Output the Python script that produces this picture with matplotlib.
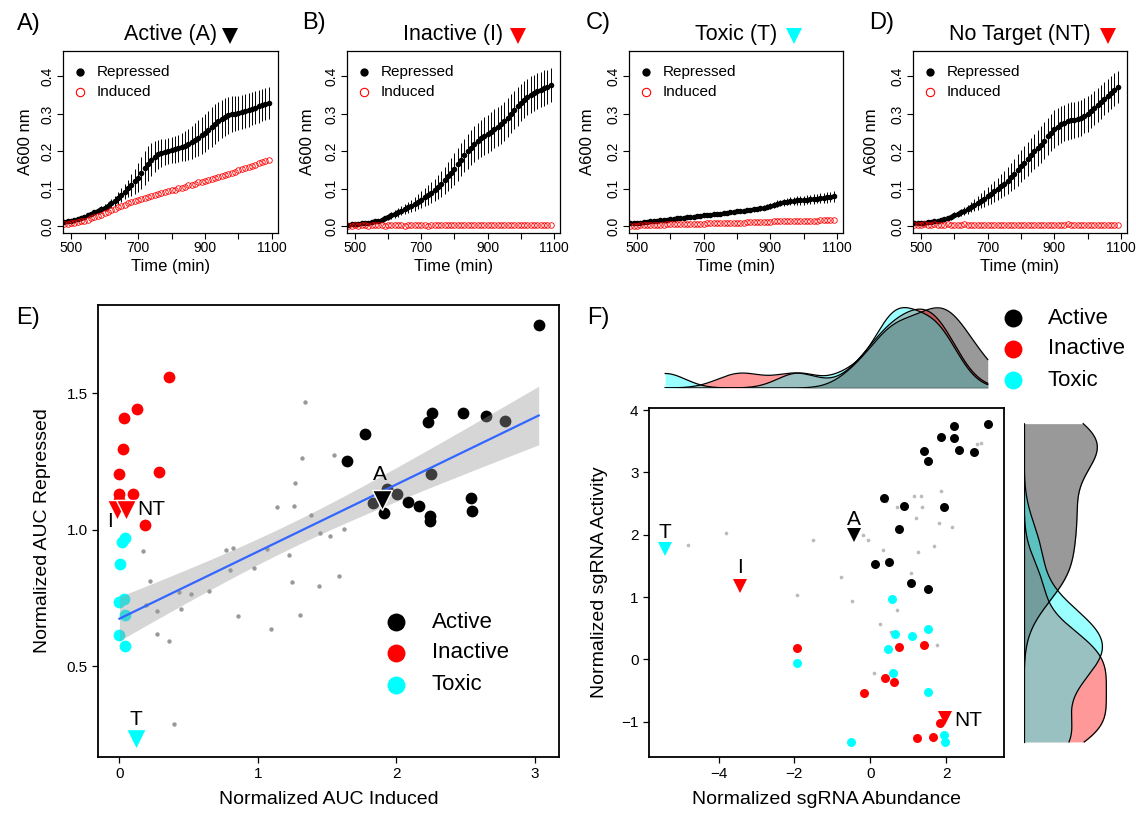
import numpy as np
import matplotlib
matplotlib.use("Agg")
import matplotlib.pyplot as plt

plt.rcParams['font.family'] = ['Liberation Sans', 'DejaVu Sans']

# ---- growth curves (A-D), time in min, A600 ----
time = np.arange(480, 1100, 10)

A_rep = [0.012,0.013,0.015,0.017,0.020,0.023,0.026,0.029,0.033,0.037,
         0.041,0.045,0.050,0.055,0.061,0.068,0.075,0.083,0.092,0.101,
         0.110,0.120,0.130,0.142,0.155,0.167,0.178,0.186,0.192,0.196,
         0.199,0.202,0.204,0.206,0.208,0.211,0.215,0.219,0.224,0.230,
         0.236,0.243,0.250,0.257,0.265,0.273,0.280,0.286,0.292,0.296,
         0.299,0.301,0.303,0.305,0.308,0.311,0.314,0.317,0.320,0.323,
         0.326,0.329]
A_err = [0.002,0.002,0.003,0.003,0.004,0.004,0.005,0.005,0.006,0.007,
         0.008,0.009,0.010,0.011,0.013,0.014,0.016,0.018,0.020,0.022,
         0.030,0.034,0.038,0.042,0.045,0.046,0.045,0.042,0.039,0.037,
         0.035,0.035,0.035,0.036,0.037,0.038,0.040,0.042,0.044,0.046,
         0.048,0.050,0.051,0.052,0.053,0.053,0.052,0.051,0.050,0.049,
         0.048,0.047,0.046,0.046,0.045,0.045,0.044,0.044,0.043,0.043,
         0.042,0.042]
A_ind = [0.006,0.007,0.008,0.009,0.011,0.013,0.015,0.018,0.021,0.024,
         0.027,0.031,0.035,0.039,0.043,0.047,0.051,0.055,0.058,0.061,
         0.064,0.067,0.070,0.073,0.076,0.078,0.081,0.083,0.086,0.088,
         0.091,0.093,0.096,0.098,0.101,0.103,0.106,0.109,0.111,0.114,
         0.117,0.119,0.122,0.124,0.127,0.130,0.132,0.135,0.137,0.140,
         0.143,0.146,0.149,0.152,0.155,0.158,0.161,0.164,0.168,0.171,
         0.174,0.178]

B_rep = [0.004,0.005,0.006,0.007,0.008,0.009,0.010,0.011,0.013,0.015,
         0.018,0.021,0.025,0.029,0.033,0.037,0.042,0.046,0.051,0.055,
         0.060,0.065,0.071,0.077,0.083,0.090,0.097,0.105,0.113,0.123,
         0.133,0.143,0.153,0.165,0.178,0.189,0.200,0.210,0.220,0.228,
         0.235,0.241,0.247,0.253,0.260,0.266,0.272,0.281,0.290,0.300,
         0.310,0.320,0.330,0.338,0.345,0.351,0.356,0.361,0.365,0.369,
         0.372,0.377]
B_err = [0.002,0.002,0.002,0.002,0.003,0.003,0.003,0.004,0.004,0.005,
         0.006,0.007,0.008,0.009,0.010,0.011,0.012,0.013,0.015,0.016,
         0.018,0.020,0.022,0.024,0.026,0.028,0.030,0.032,0.034,0.036,
         0.038,0.040,0.042,0.043,0.044,0.045,0.046,0.047,0.048,0.049,
         0.050,0.050,0.051,0.051,0.052,0.052,0.052,0.052,0.052,0.052,
         0.051,0.051,0.050,0.050,0.049,0.049,0.048,0.048,0.047,0.047,
         0.046,0.046]
B_ind = [0.002,0.002,0.003,0.002,0.003,0.003,0.002,0.003,0.003,0.003,
         0.003,0.002,0.003,0.003,0.003,0.003,0.003,0.002,0.003,0.003,
         0.003,0.003,0.003,0.003,0.002,0.003,0.003,0.003,0.003,0.003,
         0.003,0.003,0.003,0.003,0.003,0.003,0.003,0.003,0.003,0.003,
         0.003,0.003,0.003,0.003,0.003,0.004,0.003,0.003,0.003,0.004,
         0.003,0.003,0.004,0.003,0.004,0.004,0.004,0.003,0.004,0.004,
         0.004,0.004]

C_rep = [0.008,0.009,0.010,0.010,0.011,0.012,0.013,0.014,0.015,0.016,
         0.017,0.018,0.019,0.020,0.021,0.022,0.023,0.024,0.025,0.026,
         0.027,0.028,0.029,0.030,0.031,0.032,0.033,0.034,0.035,0.036,
         0.037,0.038,0.040,0.041,0.042,0.043,0.044,0.045,0.046,0.048,
         0.050,0.052,0.055,0.058,0.060,0.062,0.064,0.066,0.067,0.068,
         0.069,0.070,0.070,0.071,0.072,0.073,0.074,0.075,0.076,0.077,
         0.078,0.080]
C_err = [0.001,0.001,0.001,0.001,0.001,0.002,0.002,0.002,0.002,0.002,
         0.002,0.002,0.002,0.003,0.003,0.003,0.003,0.003,0.003,0.003,
         0.003,0.003,0.004,0.004,0.004,0.004,0.004,0.004,0.004,0.005,
         0.005,0.005,0.005,0.005,0.005,0.005,0.006,0.006,0.006,0.006,
         0.007,0.007,0.008,0.008,0.009,0.009,0.010,0.010,0.011,0.011,
         0.011,0.012,0.012,0.012,0.012,0.013,0.013,0.013,0.013,0.014,
         0.014,0.014]
C_ind = [0.002,0.002,0.002,0.003,0.003,0.003,0.003,0.004,0.004,0.004,
         0.004,0.005,0.005,0.005,0.005,0.006,0.006,0.006,0.006,0.007,
         0.007,0.007,0.007,0.008,0.008,0.008,0.008,0.009,0.009,0.009,
         0.009,0.010,0.010,0.010,0.010,0.011,0.011,0.011,0.011,0.012,
         0.012,0.012,0.012,0.013,0.013,0.013,0.013,0.014,0.014,0.014,
         0.014,0.014,0.015,0.015,0.015,0.015,0.015,0.016,0.016,0.016,
         0.016,0.016]

D_rep = [0.008,0.008,0.009,0.010,0.011,0.012,0.014,0.015,0.017,0.019,
         0.022,0.025,0.029,0.033,0.037,0.041,0.046,0.051,0.056,0.062,
         0.068,0.074,0.080,0.086,0.093,0.100,0.107,0.114,0.122,0.131,
         0.140,0.150,0.160,0.170,0.180,0.190,0.200,0.209,0.218,0.229,
         0.240,0.250,0.260,0.266,0.272,0.276,0.280,0.283,0.285,0.287,
         0.290,0.295,0.300,0.308,0.316,0.324,0.332,0.340,0.348,0.357,
         0.365,0.372]
D_err = [0.002,0.002,0.002,0.002,0.003,0.003,0.003,0.004,0.004,0.005,
         0.006,0.007,0.008,0.009,0.010,0.011,0.012,0.014,0.016,0.018,
         0.020,0.022,0.024,0.026,0.028,0.030,0.032,0.034,0.036,0.038,
         0.040,0.042,0.043,0.044,0.045,0.046,0.047,0.048,0.049,0.050,
         0.050,0.050,0.050,0.050,0.050,0.049,0.049,0.049,0.048,0.048,
         0.048,0.047,0.047,0.046,0.046,0.045,0.045,0.044,0.044,0.043,
         0.043,0.042]
D_ind = [0.004,0.004,0.004,0.005,0.004,0.004,0.005,0.004,0.004,0.004,
         0.005,0.004,0.004,0.004,0.004,0.005,0.004,0.004,0.004,0.004,
         0.004,0.004,0.004,0.004,0.004,0.004,0.004,0.004,0.004,0.004,
         0.004,0.004,0.004,0.004,0.004,0.004,0.004,0.004,0.004,0.004,
         0.004,0.004,0.004,0.004,0.004,0.004,0.005,0.004,0.004,0.004,
         0.004,0.004,0.004,0.004,0.004,0.004,0.004,0.004,0.004,0.004,
         0.004,0.004]

curve_titles = ["Active (A)", "Inactive (I)", "Toxic (T)", "No Target (NT)"]
curve_letters = ["A)", "B)", "C)", "D)"]
curve_marks = ["black", "red", "cyan", "red"]

# ---- panel E: normalized AUC ----
E_act_x = [3.029,2.259,2.233,2.479,2.647,2.783,1.776,1.645,2.251,1.936,2.006,1.833,1.911,2.084,2.164,2.246,2.246,2.543,2.546]
E_act_y = [1.750,1.429,1.393,1.429,1.417,1.399,1.350,1.251,1.205,1.149,1.132,1.098,1.063,1.101,1.088,1.051,1.033,1.116,1.067]
E_inact_x = [0.356,0.127,0.034,0.028,0.000,0.287,0.000,0.096,0.186,0.000]
E_inact_y = [1.561,1.441,1.409,1.295,1.204,1.213,1.132,1.132,1.018,1.110]
E_tox_x = [0.039,0.021,0.003,0.000,0.034,0.039,0.000,0.039]
E_tox_y = [0.970,0.957,0.876,0.735,0.748,0.687,0.616,0.576]
E_oth_x = [1.343,1.322,1.552,1.270,1.136,1.260,1.387,1.446,1.521,1.624,0.168,0.767,0.818,1.064,1.226,0.800,0.973,
           0.219,0.431,0.514,0.648,0.194,0.274,0.444,1.250,1.441,1.583,0.855,1.304,1.095,0.271,0.361,0.395]
E_oth_y = [1.467,1.262,1.272,1.171,1.084,1.088,1.055,0.990,0.978,1.002,0.921,0.927,0.932,0.928,0.906,0.854,0.861,
           0.813,0.773,0.763,0.776,0.724,0.702,0.709,0.807,0.794,0.832,0.683,0.687,0.638,0.618,0.591,0.287]
E_tri_lab = ["A", "I", "NT", "T"]
E_tri_x = [1.898, -0.018, 0.044, 0.121]
E_tri_y = [1.110, 1.073, 1.073, 0.235]
E_lab_x = [1.885, -0.065, 0.232, 0.116]
E_lab_y = [1.201, 1.030, 1.076, 0.305]

# ---- panel F: sgRNA abundance vs activity ----
F_act_x = [3.099,2.215,1.873,2.196,2.329,2.738,1.426,1.530,0.371,0.884,1.949,0.751,0.124,0.494,1.065,1.530]
F_act_y = [3.784,3.751,3.574,3.558,3.365,3.328,3.349,3.183,2.583,2.460,2.454,2.095,1.538,1.559,1.233,1.131]
F_inact_x = [-1.939,0.751,1.416,0.390,0.618,-0.162,1.245,1.645,1.835]
F_inact_y = [0.182,0.193,0.225,-0.305,-0.359,-0.531,-1.259,-1.243,-1.018]
F_tox_x = [0.580,0.656,1.103,1.530,0.475,-1.920,0.608,1.530,1.958,1.977,-0.513]
F_tox_y = [0.970,0.402,0.375,0.482,0.171,-0.064,-0.225,-0.525,-1.211,-1.324,-1.318]
F_oth_x = [-3.793,-4.810,-1.521,-0.190,-0.067,0.342,0.418,0.694,1.150,1.340,1.359,1.863,1.207,1.825,
           2.148,1.264,1.673,2.814,2.928,1.084,-0.779,-1.939,-0.475,0.703,0.247,0.551,1.759,0.105]
F_oth_y = [2.026,1.833,1.919,1.999,1.919,1.758,2.546,2.454,2.615,2.615,2.444,2.696,2.267,2.197,
           2.122,1.720,1.822,3.457,3.473,1.383,1.329,1.029,0.932,0.793,0.573,0.445,0.230,-0.214]
F_tri_lab = ["A", "I", "NT", "T"]
F_tri_x = [-0.418, -3.441, 1.968, -5.409]
F_tri_y = [1.994, 1.179, -0.938, 1.779]
F_lab_x = [-0.428, -3.441, 2.595, -5.418]
F_lab_y = [2.251, 1.479, -0.975, 2.036]

groups = ["Active", "Inactive", "Toxic"]
gcol = {"Active": "black", "Inactive": "#FF0000", "Toxic": "#00FFFF"}
tri_col = {"A": "black", "I": "#FF0000", "NT": "#FF0000", "T": "#00FFFF"}

W, H = 1136, 818
fig = plt.figure(figsize=(W / 100, H / 100), dpi=100)


def add_px(l, t, r, b):
    return fig.add_axes([l / W, 1 - b / H, (r - l) / W, (b - t) / H])


def place_labels(ax, l, t, r, b, xlab_y, ylab_x):
    # axis titles centred at given pixel positions
    ax.xaxis.label.set_va("center")
    ax.yaxis.label.set_va("center")
    ax.xaxis.set_label_coords(0.5, -(xlab_y - b) / (b - t))
    ax.yaxis.set_label_coords(-(l - ylab_x) / (r - l), 0.5)


# ---- A-D ----
boxes = [(63, 278), (347, 560), (629, 843), (913, 1127)]
ylab_px = [25, 307, 588, 872]
tri_pos = [0.777, 0.803, 0.771, 0.911]
curves = [(A_rep, A_err, A_ind), (B_rep, B_err, B_ind), (C_rep, C_err, C_ind), (D_rep, D_err, D_ind)]
for i, (l, r) in enumerate(boxes):
    ax = add_px(l, 51, r, 233)
    rep, err, ind = [np.array(v) for v in curves[i]]
    ax.vlines(time, rep - err, rep + err, color="black", lw=0.7)
    ax.plot(time, rep, "o", color="black", ms=4, mew=0)
    ax.plot(time, ind, "o", mfc="none", mec="red", ms=4, mew=0.6)
    ax.set_xlim(476, 1118)
    ax.set_ylim(-0.018, 0.468)
    ax.set_xticks(range(500, 1101, 100))
    ax.set_xticklabels(["500", "", "700", "", "900", "", "1100"])
    ax.set_yticks([0, 0.1, 0.2, 0.3, 0.4])
    ax.set_yticklabels(["0.0", "0.1", "0.2", "0.3", "0.4"], rotation=90, va="center")
    ax.tick_params(direction="out", length=4, width=0.8, labelsize=10, pad=2)
    for s in ax.spines.values():
        s.set_linewidth(0.9)
    w = r - l
    ax.set_xlabel("Time (min)", fontsize=12)
    ax.set_ylabel("A600 nm", fontsize=12)
    place_labels(ax, l, 51, r, 233, 267, ylab_px[i])
    ax.text(0.5, 1.088, curve_titles[i], transform=ax.transAxes, ha="center", va="center", fontsize=15.5)
    ax.plot([tri_pos[i]], [1.085], marker="v", color=curve_marks[i], ms=12, mew=0,
            transform=ax.transAxes, clip_on=False)
    ax.plot([17 / w], [0.885], "o", color="black", ms=6, mew=0, transform=ax.transAxes)
    ax.plot([17 / w], [0.775], "o", mfc="none", mec="red", ms=6, mew=0.8, transform=ax.transAxes)
    ax.text(34 / w, 0.885, "Repressed", transform=ax.transAxes, va="center", fontsize=11)
    ax.text(34 / w, 0.775, "Induced", transform=ax.transAxes, va="center", fontsize=11)


def gg_axes(ax):
    for s in ax.spines.values():
        s.set_linewidth(1.3)
    ax.tick_params(direction="out", length=4, width=0.9, labelsize=11, colors="black")


# ---- E ----
El, Et, Er, Eb = 98, 305, 559, 757
ax = add_px(El, Et, Er, Eb)
ax.scatter(E_oth_x, E_oth_y, s=10, color="#999999", linewidths=0)
ax.scatter(E_act_x, E_act_y, s=72, color=gcol["Active"], linewidths=0)
ax.scatter(E_inact_x, E_inact_y, s=72, color=gcol["Inactive"], linewidths=0)
ax.scatter(E_tox_x, E_tox_y, s=72, color=gcol["Toxic"], linewidths=0)

# linear fit with 95% band (active, toxic and unlabelled guides)
fx = np.array(E_act_x + E_tox_x + E_oth_x)
fy = np.array(E_act_y + E_tox_y + E_oth_y)
slope, icpt = np.polyfit(fx, fy, 1)
n = len(fx)
s_err = np.sqrt(((fy - (icpt + slope * fx)) ** 2).sum() / (n - 2))
xg = np.linspace(fx.min(), fx.max(), 100)
yg = icpt + slope * xg
se = s_err * np.sqrt(1 / n + (xg - fx.mean()) ** 2 / ((fx - fx.mean()) ** 2).sum())
ax.fill_between(xg, yg - 2.0 * se, yg + 2.0 * se, color="#999999", alpha=0.4, lw=0)
ax.plot(xg, yg, color="#3366FF", lw=1.6)

for lab, x, y, lx, ly in zip(E_tri_lab, E_tri_x, E_tri_y, E_lab_x, E_lab_y):
    ax.plot([x], [y], marker="v", color=tri_col[lab], ms=15, mec="white", mew=1)
    ax.text(lx, ly, lab, ha="center", va="center", fontsize=15)

ax.set_xlim(-0.155, 3.176)
ax.set_ylim(0.168, 1.823)
ax.set_xticks([0, 1, 2, 3])
ax.set_yticks([0.5, 1.0, 1.5])
ax.set_yticklabels(["0.5", "1.0", "1.5"])
gg_axes(ax)
ax.set_xlabel("Normalized AUC Induced", fontsize=14)
ax.set_ylabel("Normalized AUC Repressed", fontsize=14)
place_labels(ax, El, Et, Er, Eb, 800, 43)

# ---- F ----
Fl, Ft, Fr, Fb = 649, 408, 1004, 757
ax = add_px(Fl, Ft, Fr, Fb)
ax.scatter(F_oth_x, F_oth_y, s=7, color="#BBBBBB", linewidths=0)
ax.scatter(F_act_x, F_act_y, s=42, color=gcol["Active"], linewidths=0)
ax.scatter(F_inact_x, F_inact_y, s=42, color=gcol["Inactive"], linewidths=0)
ax.scatter(F_tox_x, F_tox_y, s=42, color=gcol["Toxic"], linewidths=0)
for lab, x, y, lx, ly in zip(F_tri_lab, F_tri_x, F_tri_y, F_lab_x, F_lab_y):
    ax.plot([x], [y], marker="v", color=tri_col[lab], ms=10.5, mew=0)
    ax.text(lx, ly, lab, ha="center", va="center", fontsize=15)
xl = (-5.836, 3.528)
yl = (-1.566, 4.035)
ax.set_xlim(xl)
ax.set_ylim(yl)
ax.set_xticks([-4, -2, 0, 2])
ax.set_yticks([-1, 0, 1, 2, 3, 4])
gg_axes(ax)
ax.set_xlabel("Normalized sgRNA Abundance", fontsize=14)
ax.set_ylabel("Normalized sgRNA Activity", fontsize=14)
place_labels(ax, Fl, Ft, Fr, Fb, 800, 599)

# marginal densities (groups include the labelled triangles)
gx = {"Active": F_act_x + [F_tri_x[0]],
      "Inactive": F_inact_x + [F_tri_x[1], F_tri_x[2]],
      "Toxic": F_tox_x + [F_tri_x[3]]}
gy = {"Active": F_act_y + [F_tri_y[0]],
      "Inactive": F_inact_y + [F_tri_y[1], F_tri_y[2]],
      "Toxic": F_tox_y + [F_tri_y[3]]}


def kde(vals, grid):
    v = np.asarray(vals)
    q75, q25 = np.percentile(v, [75, 25])
    bw = 0.9 * min(v.std(ddof=1), (q75 - q25) / 1.34) * len(v) ** -0.2
    z = (grid[:, None] - v[None, :]) / bw
    return np.exp(-0.5 * z ** 2).sum(1) / (len(v) * bw * np.sqrt(2 * np.pi))


allfx = sum(gx.values(), [])
allfy = sum(gy.values(), [])
xgrid = np.linspace(min(allfx), max(allfx), 512)
ygrid = np.linspace(min(allfy), max(allfy), 512)
dx = {g: kde(gx[g], xgrid) for g in groups}
dy = {g: kde(gy[g], ygrid) for g in groups}

axt = add_px(Fl, 306, Fr, 388)
axt.set_xlim(xl)
axt.set_ylim(0, max(d.max() for d in dx.values()) * 1.02)
axt.axis("off")
axr = add_px(1024, Ft, 1108, Fb)
axr.set_ylim(yl)
axr.set_xlim(0, max(d.max() for d in dy.values()) * 1.02)
axr.axis("off")
for g in groups:
    axt.fill_between(xgrid, 0, dx[g], color=gcol[g], alpha=0.4, lw=0)
    axt.plot(xgrid, dx[g], color="black", lw=0.9)
    axr.fill_betweenx(ygrid, 0, dy[g], color=gcol[g], alpha=0.4, lw=0)
    axr.plot(dy[g], ygrid, color="black", lw=0.9)
axt.plot([xgrid[0], xgrid[-1]], [0, 0], color="black", lw=0.9)
axr.plot([0, 0], [ygrid[0], ygrid[-1]], color="black", lw=0.9)

# ---- overlay: panel letters and legends ----
ov = fig.add_axes([0, 0, 1, 1])
ov.set_xlim(0, W)
ov.set_ylim(H, 0)
ov.axis("off")
for lab, (x, y) in zip(curve_letters + ["E)", "F)"],
                       [(29, 24), (314, 23), (598, 23), (882, 23), (28, 318), (598, 318)]):
    ov.text(x, y, lab, ha="center", va="center", fontsize=17)
for (mx, tx, ys) in [(396, 432, [622, 653, 685]), (1013, 1048, [318, 349, 380])]:
    for g, y in zip(groups, ys):
        ov.scatter([mx], [y], s=166, color=gcol[g], linewidths=0)
        ov.text(tx, y, g, va="center", fontsize=16)

fig.savefig("out.png", dpi=100)
